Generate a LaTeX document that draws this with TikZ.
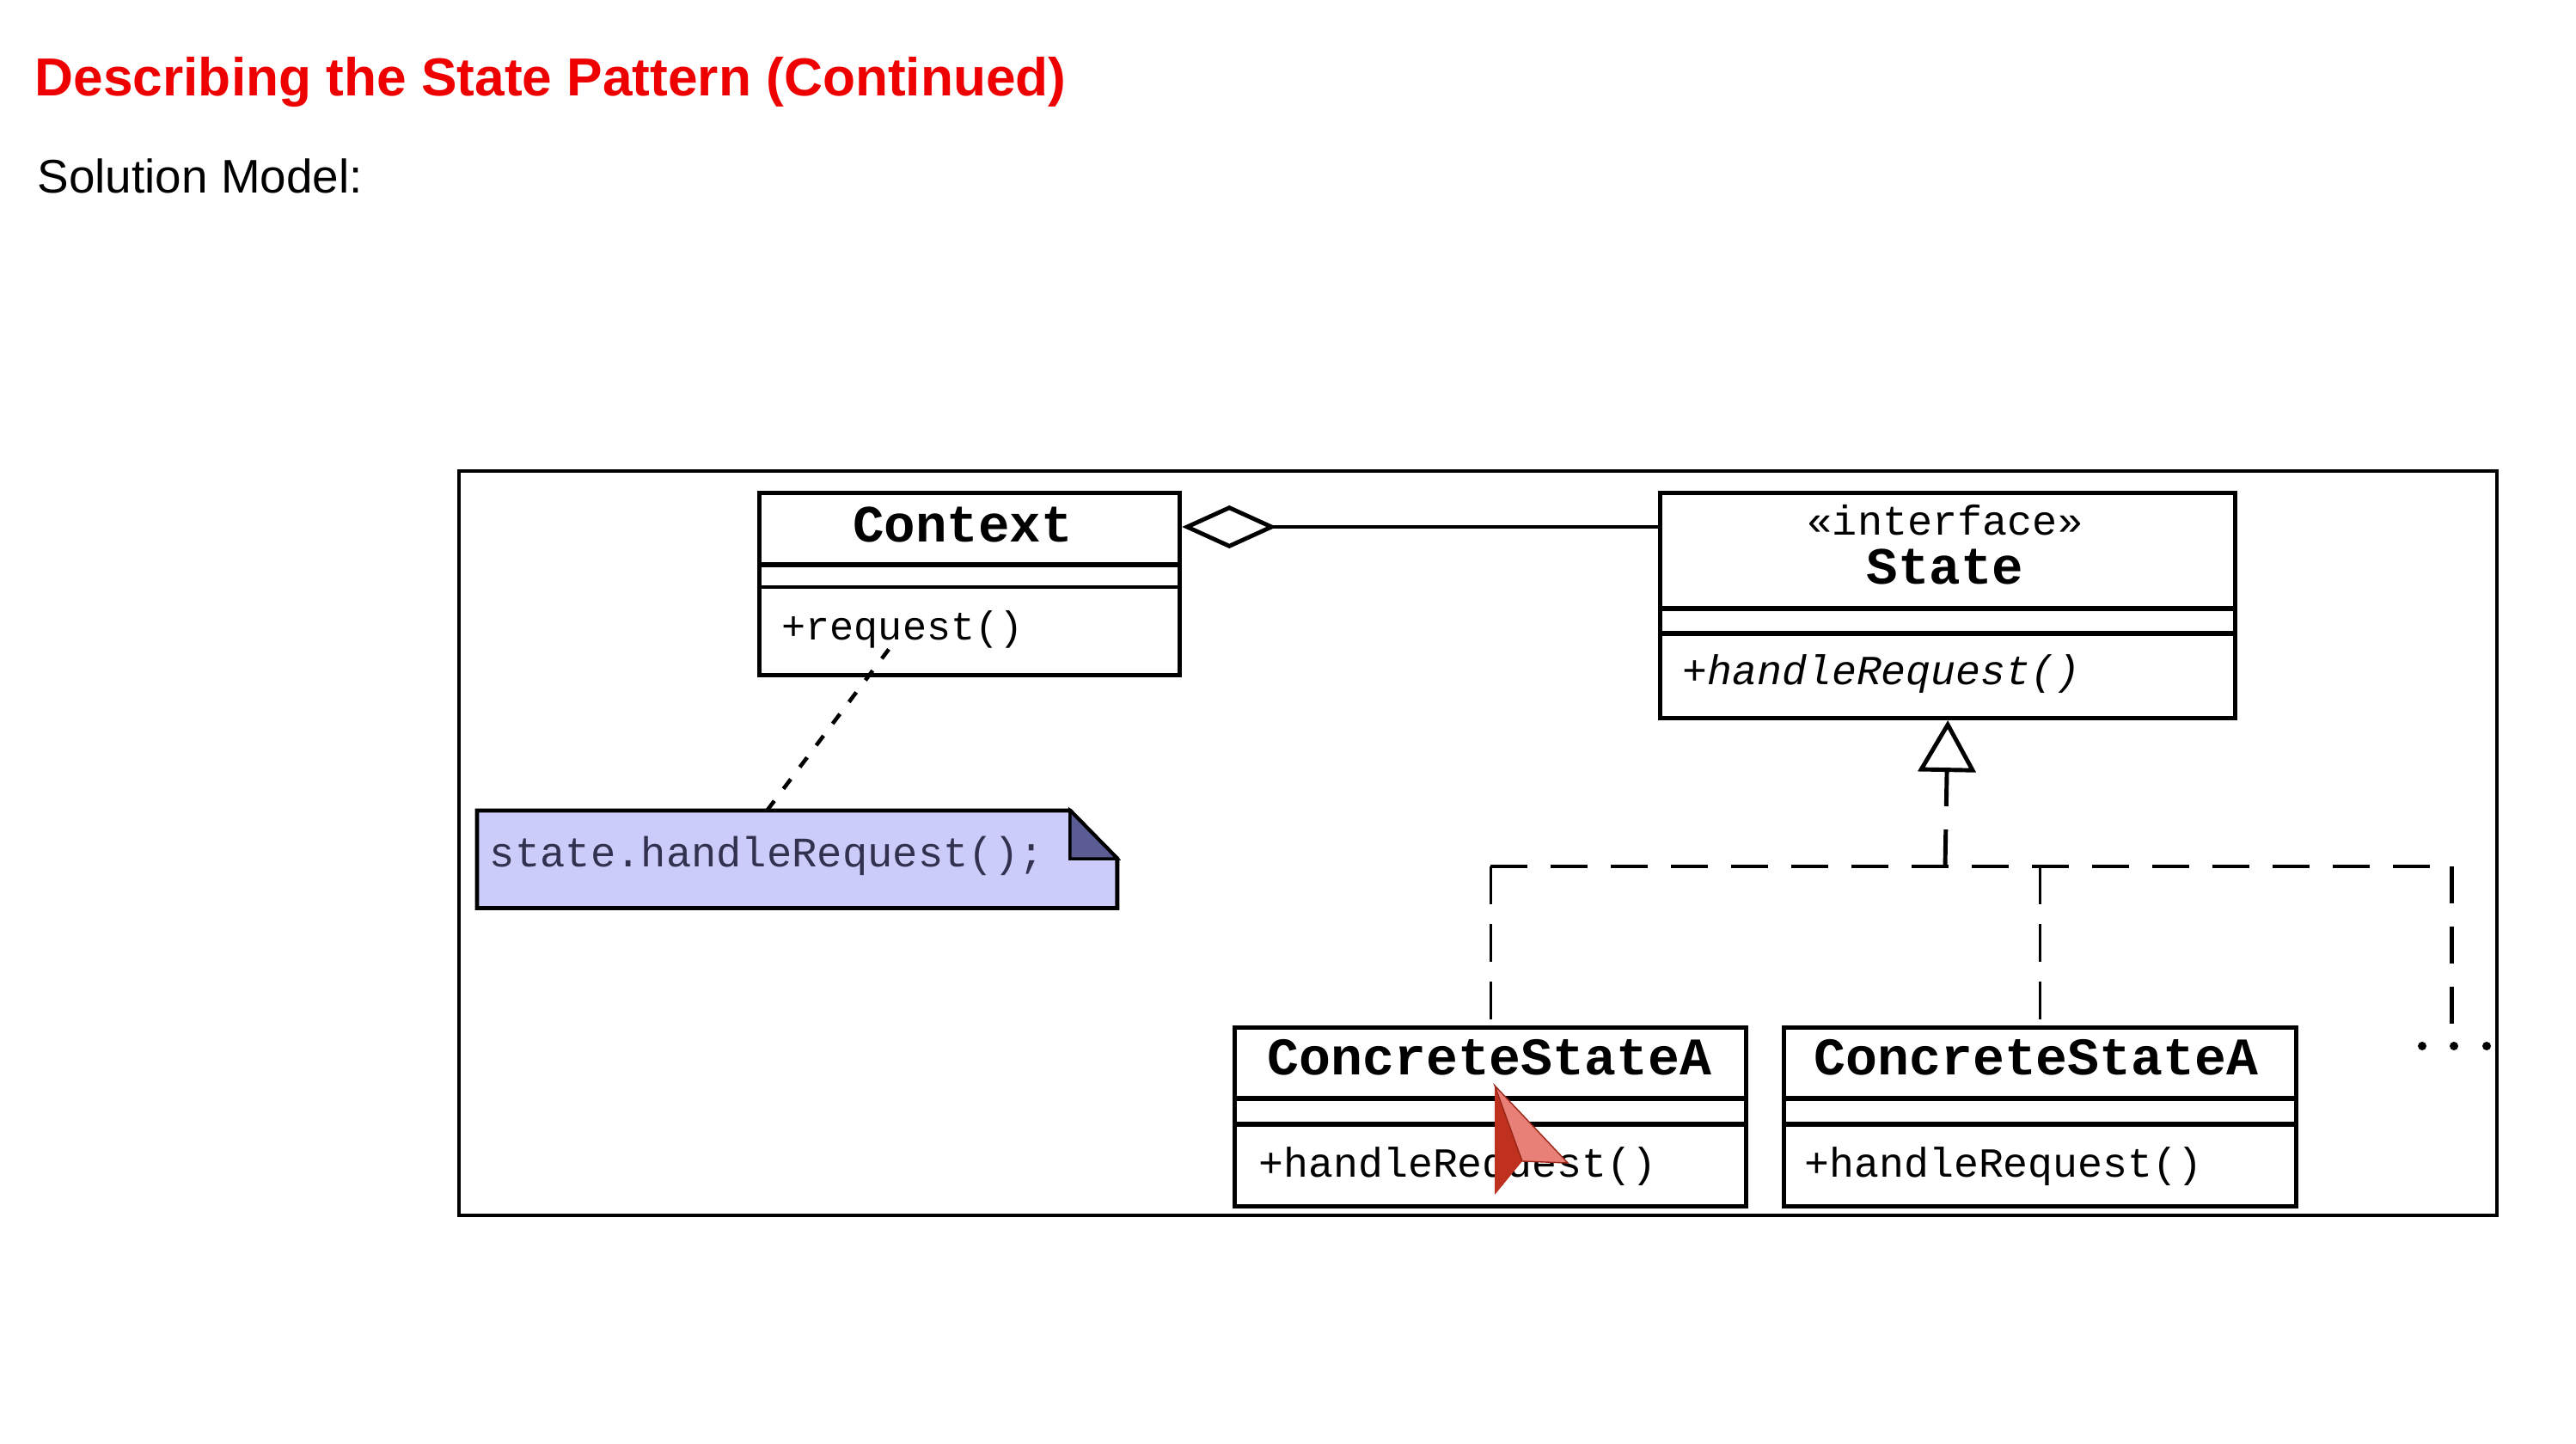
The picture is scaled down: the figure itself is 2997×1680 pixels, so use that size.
\documentclass[tikz,border=0pt]{standalone}
\usepackage{fontspec}
\setmainfont{Liberation Sans}
\newfontfamily\monof{Liberation Mono}
\usetikzlibrary{arrows.meta,calc}
\definecolor{titlered}{RGB}{238,0,0}
\definecolor{notefill}{RGB}{204,204,250}
\definecolor{noteear}{RGB}{92,92,148}
\definecolor{notetext}{RGB}{50,50,80}
\definecolor{curdark}{RGB}{192,48,30}
\definecolor{curlight}{RGB}{232,128,120}
\begin{document}
\begin{tikzpicture}[x=0.01cm,y=-0.01cm,
  box/.style={draw=black, line width=1.4pt, anchor=north west, inner sep=0pt, fill=white},
  sep/.style={line width=1.4pt},
  cname/.style={font=\monof\bfseries\fontsize{17.3}{20}\selectfont, anchor=base, inner sep=0pt},
  bigname/.style={font=\monof\bfseries\fontsize{17.5}{21}\selectfont, anchor=base, inner sep=0pt},
  meth/.style={font=\monof\fontsize{13.7}{16}\selectfont, anchor=base west, inner sep=0pt},
  realdash/.style={line width=1.4pt, dash pattern=on 12.2pt off 7.7pt},
  thindash/.style={line width=0.8pt, dash pattern=on 12.5pt off 6.5pt},
  assoc/.style={line width=1.4pt},
]
\useasboundingbox (0,0) rectangle (2997,1680);

% headings
\node[anchor=base west, inner sep=0pt, text=titlered, font=\bfseries\fontsize{17.7}{21}\selectfont] (title) at (40,112) {Describing the State Pattern (Continued)};
\node[anchor=base west, inner sep=0pt, font=\fontsize{15.6}{19}\selectfont] (sub) at (43,225) {Solution Model:};

% frame
\draw[line width=0.9pt] (534,548) rectangle (2905,1414);

% Context class
\node[box, minimum width=4.89cm, minimum height=2.12cm] (ctx) at (881,571) {};
\draw[sep, line width=1.7pt] (ctx.west |- 0,657) -- (ctx.east |- 0,657);
\draw[sep] (ctx.west |- 0,683) -- (ctx.east |- 0,683);
\node[cname] (ctxname) at (1120,631) {Context};
\node[meth, font=\monof\fontsize{13.3}{16}\selectfont] (ctxreq) at (909,745) {+request()};

% State interface
\node[box, minimum width=6.69cm, minimum height=2.62cm] (state) at (1929,571) {};
\draw[sep, line width=1.7pt] (state.west |- 0,708) -- (state.east |- 0,708);
\draw[sep, line width=1.7pt] (state.west |- 0,737) -- (state.east |- 0,737);
\node[anchor=base, inner sep=0pt, font=\monof\fontsize{13.8}{16}\selectfont] (stereo) at (2263,623) {«interface»};
\node[cname] (statename) at (2263,680) {State};
\node[meth, font=\monof\itshape\fontsize{13.7}{16}\selectfont] (smeth) at (1957,797) {+handleRequest()};

% aggregation
\draw[assoc, {Diamond[fill=white,length=1.1cm,width=0.5cm]}-] ([yshift=-0.42cm]ctx.north east) -- ([yshift=-0.42cm]state.north west);

% concrete states
\node[box, minimum width=5.95cm, minimum height=2.08cm] (c1) at (1434,1193) {};
\draw[sep, line width=1.7pt] (c1.west |- 0,1278) -- (c1.east |- 0,1278);
\draw[sep, line width=1.7pt] (c1.west |- 0,1308) -- (c1.east |- 0,1308);
\node[bigname] (c1name) at (1733,1251) {ConcreteStateA};
\node[meth] (c1meth) at (1464,1369) {+handleRequest()};

\node[box, minimum width=5.96cm, minimum height=2.08cm] (c2) at (2073,1193) {};
\draw[sep, line width=1.7pt] (c2.west |- 0,1278) -- (c2.east |- 0,1278);
\draw[sep, line width=1.7pt] (c2.west |- 0,1308) -- (c2.east |- 0,1308);
\node[bigname] (c2name) at (2369,1251) {ConcreteStateA};
\node[meth] (c2meth) at (2099,1369) {+handleRequest()};

% realization hierarchy
\coordinate (hub) at (2263,1008);
\coordinate (rend) at (2852,1008);
\coordinate (rbot) at (2852,1192);
\draw[realdash, -{Triangle[fill=white,length=0.6cm,width=0.67cm]}] (hub) -- (state.south);
\draw[realdash] (c1.north |- hub) -- (rend);
\draw[thindash] (c1.north |- hub) -- (c1.north);
\draw[thindash] (c2.north |- hub) -- (c2.north);
\draw[realdash] (rend) -- (rbot);
\coordinate (d1) at (2818,1217);
\coordinate (d2) at (2855,1217);
\coordinate (d3) at (2893,1217);
\fill (d1) circle (0.05cm);
\fill (d2) circle (0.05cm);
\fill (d3) circle (0.05cm);

% note
\node[anchor=north west, minimum width=7.43cm, minimum height=1.12cm, inner sep=0pt] (note) at (555,943) {};
\filldraw[fill=notefill, line width=1.4pt] (note.north west) -- ([xshift=-0.55cm]note.north east) -- ([yshift=-0.56cm]note.north east) -- (note.south east) -- (note.south west) -- cycle;
\filldraw[fill=noteear, line width=1pt] ([xshift=-0.55cm]note.north east) -- ([xshift=-0.55cm,yshift=-0.56cm]note.north east) -- ([yshift=-0.56cm]note.north east) -- cycle;
\node[meth, text=notetext, font=\monof\fontsize{13.9}{16}\selectfont] (notetxt) at (569,1009) {state.handleRequest();};
\draw[line width=1.3pt, dash pattern=on 4pt off 5pt] ([xshift=-0.35cm]note.north) -- ([xshift=-0.16cm]ctxreq.south);

% cursor
\fill[curdark] (1739,1263) -- (1739,1390) -- (1771,1351) -- cycle;
\filldraw[fill=curlight, draw=curdark!80!black, line width=0.4pt] (1739,1263) -- (1771,1351) -- (1824,1353) -- cycle;
\end{tikzpicture}
\end{document}
